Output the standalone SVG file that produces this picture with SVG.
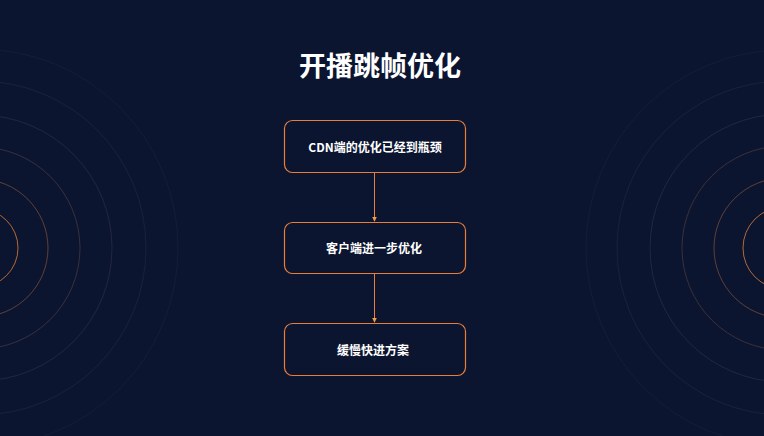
<svg xmlns="http://www.w3.org/2000/svg" width="764" height="436" viewBox="0 0 764 436">
<defs>
<style>
.bg{fill:#0c1530}
.ring{fill:none;stroke-width:1}
.box{fill:#0c1530;stroke:#ea7d38;stroke-width:1.2}
.lbl{font-family:"Noto Sans CJK SC","Noto Sans",sans-serif;font-size:12px;font-weight:700;fill:#ffffff;text-anchor:middle}
.title{font-family:"Noto Sans CJK SC","Noto Sans",sans-serif;font-size:27px;font-weight:700;fill:#ffffff;text-anchor:middle}
.edge{stroke:#ea7d38;stroke-width:1;fill:none}
</style>
<marker id="ah" viewBox="0 0 8 8" refX="7" refY="4" markerWidth="5" markerHeight="5" orient="auto" markerUnits="userSpaceOnUse">
<path d="M0,0 L8,4 L0,8 z" fill="#f0a040"/>
</marker>
</defs>
<rect class="bg" x="0" y="0" width="764" height="436"/>
<g id="rings-left">
<circle class="ring" cx="-21" cy="248" r="39" stroke="#e8853a" stroke-opacity="0.75"/>
<circle class="ring" cx="-21" cy="248" r="69" stroke="#b06a40" stroke-opacity="0.5"/>
<circle class="ring" cx="-21" cy="248" r="101" stroke="#7a5a4a" stroke-opacity="0.4"/>
<circle class="ring" cx="-21" cy="248" r="133" stroke="#4a4660" stroke-opacity="0.35"/>
<circle class="ring" cx="-21" cy="248" r="167" stroke="#343c60" stroke-opacity="0.3"/>
<circle class="ring" cx="-21" cy="248" r="199" stroke="#283555" stroke-opacity="0.25"/>
</g>
<g id="rings-right">
<circle class="ring" cx="784" cy="248" r="41" stroke="#e8853a" stroke-opacity="0.75"/>
<circle class="ring" cx="784" cy="248" r="70" stroke="#b06a40" stroke-opacity="0.5"/>
<circle class="ring" cx="784" cy="248" r="102" stroke="#7a5a4a" stroke-opacity="0.4"/>
<circle class="ring" cx="784" cy="248" r="134" stroke="#4a4660" stroke-opacity="0.35"/>
<circle class="ring" cx="784" cy="248" r="167" stroke="#343c60" stroke-opacity="0.3"/>
<circle class="ring" cx="784" cy="248" r="198" stroke="#283555" stroke-opacity="0.25"/>
</g>
<g id="title">
<text class="title" x="380" y="76">开播跳帧优化</text>
</g>
<g id="connectors">
<line class="edge" x1="374.5" y1="173" x2="374.5" y2="221" marker-end="url(#ah)"/>
<line class="edge" x1="374.5" y1="274" x2="374.5" y2="322" marker-end="url(#ah)"/>
</g>
<g id="node1">
<rect class="box" x="284.5" y="120.5" width="181" height="52" rx="8"/>
<text class="lbl" x="375" y="152">CDN端的优化已经到瓶颈</text>
</g>
<g id="node2">
<rect class="box" x="284.5" y="222.5" width="181" height="51" rx="8"/>
<text class="lbl" x="374" y="253">客户端进一步优化</text>
</g>
<g id="node3">
<rect class="box" x="284.5" y="323.5" width="181" height="52" rx="8"/>
<text class="lbl" x="373" y="355">缓慢快进方案</text>
</g>
</svg>
